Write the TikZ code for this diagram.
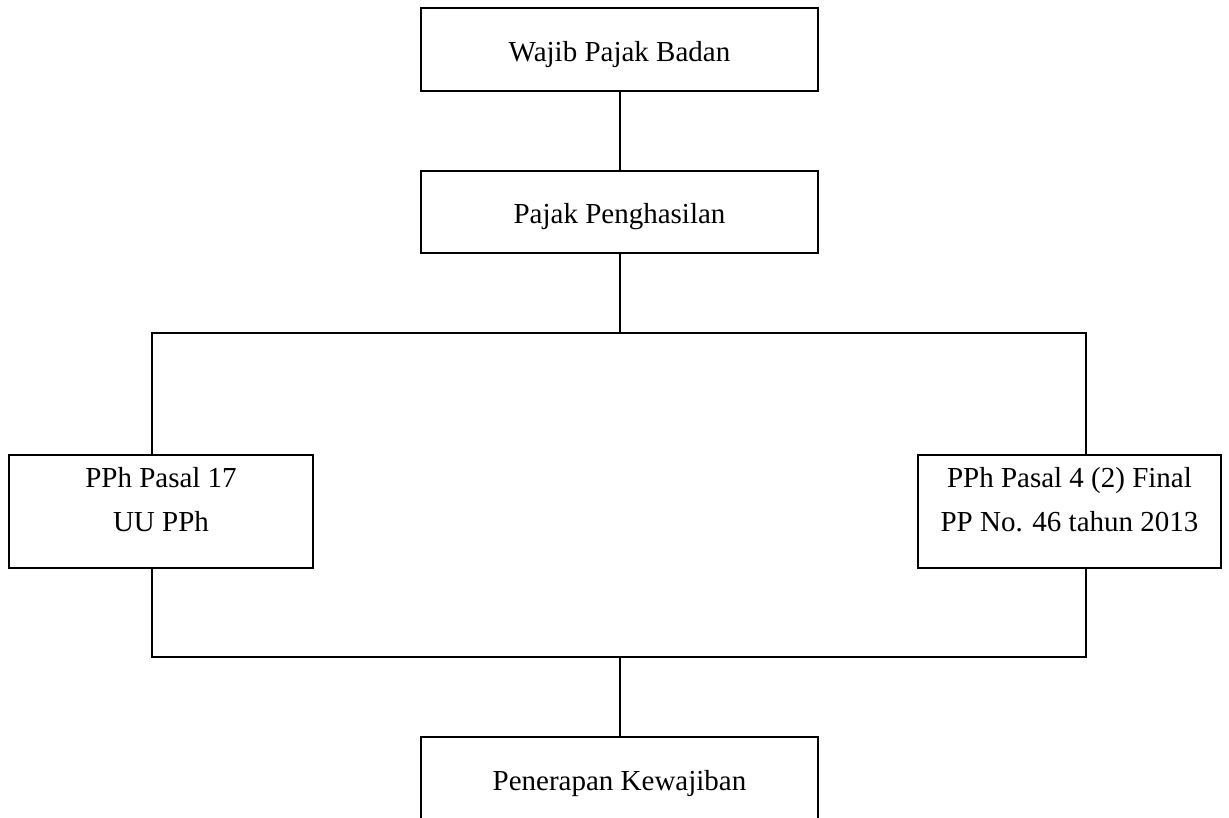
\documentclass[tikz,border=0pt]{standalone}
\usepackage{fontspec}
\setmainfont{Liberation Serif}
\newcommand{\lowstrut}{\rule{0pt}{22pt}}
\newcommand{\highstrut}{\rule[-18pt]{0pt}{18pt}}
\begin{document}
\begin{tikzpicture}[x=0.75pt,y=-0.75pt,
  box/.style={draw=black, line width=1.5pt, inner sep=0pt, align=center,
    font=\fontsize{21.75}{33}\selectfont},
  conn/.style={line width=1.5pt, draw=black}]
\path[use as bounding box, clip] (0,0) rectangle (1229,818);
\node[box, minimum width=397*0.75pt, minimum height=83*0.75pt] (wpb) at (619.5,49.5) {\lowstrut Wajib Pajak Badan};
\node[box, minimum width=397*0.75pt, minimum height=82*0.75pt] (pp) at (619.5,212) {\lowstrut Pajak Penghasilan};
\node[box, minimum width=304*0.75pt, minimum height=113*0.75pt] (l) at (161,511.5) {PPh Pasal 17\\UU PPh\highstrut};
\node[box, minimum width=303*0.75pt, minimum height=113*0.75pt] (r) at (1069.5,511.5) {PPh Pasal 4 (2) Final\\PP No. 46 tahun 2013\highstrut};
\node[box, minimum width=397*0.75pt, minimum height=83*0.75pt] (pk) at (619.5,778.5) {\lowstrut Penerapan Kewajiban};
\coordinate (jt) at (619.5,333);
\coordinate (tl) at (152,333);
\coordinate (tr) at (1086,333);
\coordinate (jb) at (619.5,657);
\coordinate (bl) at (152,657);
\coordinate (br) at (1086,657);
\draw[conn] (wpb.south) -- (pp.north);
\draw[conn] (pp.south) -- (jt);
\draw[conn] (tl |- l.north) -- (tl) -- (tr) -- (tr |- r.north);
\draw[conn] (tl |- l.south) -- (bl) -- (br) -- (tr |- r.south);
\draw[conn] (jb) -- (pk.north);
\end{tikzpicture}
\end{document}
